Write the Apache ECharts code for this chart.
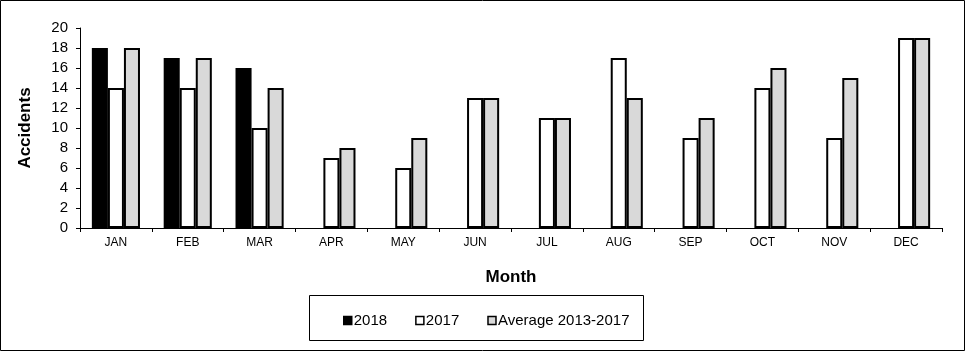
<!DOCTYPE html>
<html>
<head>
<meta charset="utf-8">
<script src="https://cdn.jsdelivr.net/npm/echarts@6/dist/echarts.min.js"></script>
<style>
  html, body { margin: 0; padding: 0; background: #fff; }
  #chart { width: 965px; height: 351px; }
</style>
</head>
<body>
<div id="chart"></div>
<script>
// months on the x axis
const months = ['JAN', 'FEB', 'MAR', 'APR', 'MAY', 'JUN', 'JUL', 'AUG', 'SEP', 'OCT', 'NOV', 'DEC']
// accidents per month
const data2018 = [18, 17, 16, null, null, null, null, null, null, null, null, null]
const data2017 = [14, 14, 10, 7, 6, 13, 11, 17, 9, 14, 9, 19]
const dataAvg = [18, 17, 14, 8, 9, 13, 11, 13, 11, 16, 15, 19]

const font = '"Liberation Sans", Arial, sans-serif'

const chart = echarts.init(document.getElementById('chart'))

function barSeries(name, data, color) {
  return {
    name: name,
    type: 'bar',
    data: data,
    barGap: '0%',
    barCategoryGap: '33%',
    itemStyle: { color: color, borderColor: '#000', borderWidth: 2 }
  }
}

chart.setOption({
  animation: false,
  backgroundColor: '#fff',
  textStyle: { fontFamily: font, color: '#000' },
  grid: { left: 80, right: 23, top: 28, bottom: 123 },
  xAxis: {
    type: 'category',
    data: months,
    name: 'Month',
    nameLocation: 'middle',
    nameGap: 41,
    nameTextStyle: { fontSize: 17, fontWeight: 'bold', color: '#000', fontFamily: font },
    axisLine: { lineStyle: { color: '#000', width: 1 } },
    axisTick: { show: true, inside: false, length: 4, lineStyle: { color: '#000' } },
    axisLabel: { color: '#000', fontSize: 12, margin: 9, fontFamily: font },
    splitLine: { show: false }
  },
  yAxis: {
    type: 'value',
    min: 0,
    max: 20,
    interval: 2,
    name: 'Accidents',
    nameLocation: 'middle',
    nameGap: 46,
    nameTextStyle: { fontSize: 17, fontWeight: 'bold', color: '#000', fontFamily: font },
    axisLine: { show: true, lineStyle: { color: '#000', width: 1 } },
    axisTick: { show: true, inside: false, length: 4, lineStyle: { color: '#000' } },
    axisLabel: { color: '#000', fontSize: 15, margin: 12, fontFamily: font },
    splitLine: { show: false }
  },
  legend: {
    left: 338,
    top: 308,
    itemWidth: 8,
    itemHeight: 8,
    itemGap: 28,
    icon: 'rect',
    textStyle: { fontSize: 15, color: '#000', fontFamily: font, padding: [0, 0, 0, -3] },
    itemStyle: { borderColor: '#000', borderWidth: 1.5 },
    data: ['2018', '2017', 'Average 2013-2017']
  },
  graphic: [
    {
      type: 'rect',
      shape: { x: 0.5, y: 0.5, width: 964, height: 350 },
      style: { fill: 'none', stroke: '#000', lineWidth: 1 },
      silent: true
    },
    {
      type: 'rect',
      shape: { x: 309.5, y: 295.5, width: 334, height: 45 },
      style: { fill: 'none', stroke: '#000', lineWidth: 1 },
      silent: true
    }
  ],
  series: [
    barSeries('2018', data2018, '#000'),
    barSeries('2017', data2017, '#fff'),
    barSeries('Average 2013-2017', dataAvg, '#d9d9d9')
  ]
})
</script>
</body>
</html>
